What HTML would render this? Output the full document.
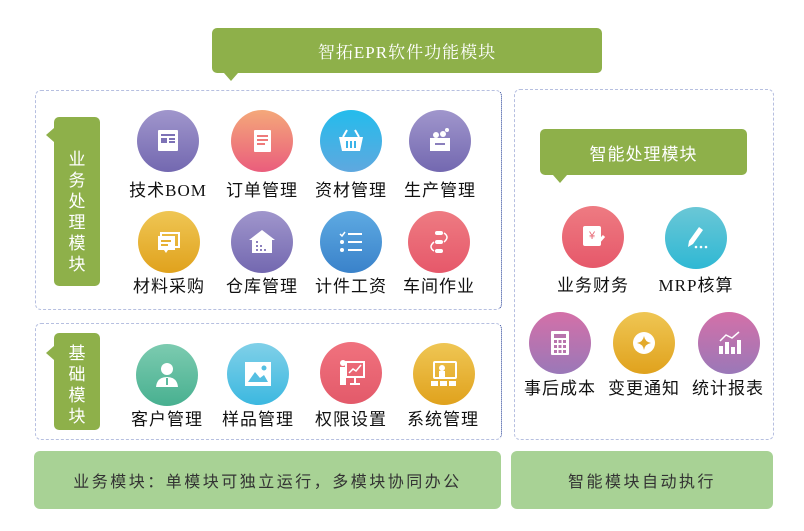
<!DOCTYPE html>
<html><head><meta charset="utf-8"><style>
*{margin:0;padding:0;box-sizing:border-box}
body{width:804px;height:531px;background:#fff;position:relative;overflow:hidden;font-family:"Liberation Serif","Noto Serif CJK SC",serif}
.a{position:absolute}
.g{background:#8eb04a;border-radius:5px;color:#fff}
.box{position:absolute;border:1px dashed #b6bfe0;border-radius:6px}
.box.r{border-right:1.5px dotted #1f3a93}
.c{position:absolute;width:62px;height:62px;border-radius:50%;display:flex;align-items:center;justify-content:center}
.c svg{width:34px;height:34px}
.l{position:absolute;width:120px;text-align:center;font-size:17px;color:#111;letter-spacing:1px;font-family:"Liberation Serif","Noto Sans CJK SC",sans-serif}
.bar{position:absolute;background:#a8d295;border-radius:6px;color:#333;font-size:16px;letter-spacing:2.5px;font-family:"Liberation Sans","Noto Sans CJK SC",sans-serif;display:flex;align-items:center;justify-content:center}
.p{background:linear-gradient(#a096cc,#7368b0)}
.o{background:linear-gradient(#f4a87a,#ea5d7c)}
.b{background:linear-gradient(#24bcec,#5fa8df)}
.y{background:linear-gradient(#efc654,#e0a21d)}
.b2{background:linear-gradient(#5eaae2,#3a82ca)}
.rd{background:linear-gradient(#ee7b82,#e6586a)}
.t{background:linear-gradient(#6ac7d6,#2fb8d4)}
.pk{background:linear-gradient(#d470a8,#9a78b8)}
.gr{background:linear-gradient(#7ccbb0,#48b090)}
.sk{background:linear-gradient(#80d0e8,#3cb8e0)}
.rp{background:linear-gradient(#f0727e,#e35a6a)}
</style></head><body>

<!-- title -->
<div class="a g" style="left:212px;top:28px;width:390px;height:45px;display:flex;align-items:center;justify-content:center;font-size:17px;letter-spacing:1px">智拓EPR软件功能模块</div>
<div class="a" style="left:224px;top:73px;width:0;height:0;border-left:7px solid transparent;border-right:7px solid transparent;border-top:8px solid #8eb04a"></div>

<!-- boxes -->
<div class="box r" style="left:35px;top:90px;width:467px;height:220px"></div>
<div class="box r" style="left:35px;top:323px;width:467px;height:117px"></div>
<div class="box" style="left:514px;top:89px;width:260px;height:351px"></div>

<!-- vertical labels -->
<div class="a g" style="left:54px;top:117px;width:46px;height:169px;font-size:17px;line-height:21px;text-align:center;padding-top:32px;font-family:'Liberation Sans','Noto Sans CJK SC',sans-serif">业<br>务<br>处<br>理<br>模<br>块</div>
<div class="a" style="left:46px;top:128px;border-top:7px solid transparent;border-bottom:7px solid transparent;border-right:8px solid #8eb04a"></div>
<div class="a g" style="left:54px;top:333px;width:46px;height:97px;font-size:17px;line-height:21px;text-align:center;padding-top:10px;font-family:'Liberation Sans','Noto Sans CJK SC',sans-serif">基<br>础<br>模<br>块</div>
<div class="a" style="left:46px;top:346px;border-top:7px solid transparent;border-bottom:7px solid transparent;border-right:8px solid #8eb04a"></div>

<!-- right label -->
<div class="a g" style="left:540px;top:129px;width:207px;height:46px;display:flex;align-items:center;justify-content:center;font-size:17px;letter-spacing:1px;font-family:'Liberation Sans','Noto Sans CJK SC',sans-serif">智能处理模块</div>
<div class="a" style="left:553px;top:175px;border-left:7px solid transparent;border-right:7px solid transparent;border-top:8px solid #8eb04a"></div>

<!-- row 1 -->
<div class="c p" style="left:137px;top:110px"><svg viewBox="0 0 34 34"><rect x="7" y="6" width="20" height="21" rx="1" fill="#fff"/><rect x="10" y="10" width="14" height="2" fill="#7d72b6"/><rect x="10" y="14" width="6" height="5" fill="#7d72b6"/><rect x="18" y="14" width="6" height="2" fill="#7d72b6"/><rect x="18" y="17" width="6" height="2" fill="#7d72b6"/></svg></div>
<div class="l" style="left:108px;top:176px">技术BOM</div>
<div class="c o" style="left:231px;top:110px"><svg viewBox="0 0 34 34"><rect x="9" y="6" width="17" height="22" rx="1" fill="#fff"/><rect x="12" y="11" width="11" height="2" fill="#ee7a7a"/><rect x="12" y="15" width="11" height="2" fill="#ee7a7a"/><rect x="12" y="19" width="8" height="2" fill="#ee7a7a"/></svg></div>
<div class="l" style="left:202px;top:176px">订单管理</div>
<div class="c b" style="left:320px;top:110px"><svg viewBox="0 0 34 34"><path d="M13 6 L9 13 M21 6 L25 13" stroke="#fff" stroke-width="2"/><path d="M5 13 H29 L26 27 H8 Z" fill="#fff"/><rect x="12" y="17" width="2" height="7" fill="#3ab3e8"/><rect x="16" y="17" width="2" height="7" fill="#3ab3e8"/><rect x="20" y="17" width="2" height="7" fill="#3ab3e8"/></svg></div>
<div class="l" style="left:291px;top:176px">资材管理</div>
<div class="c p" style="left:409px;top:110px"><svg viewBox="0 0 34 34"><circle cx="13" cy="11" r="3" fill="#fff"/><circle cx="20" cy="10" r="3" fill="#fff"/><circle cx="24" cy="6" r="2" fill="#fff"/><rect x="7" y="14" width="20" height="13" fill="#fff"/><rect x="12" y="19" width="10" height="2" fill="#8a7fbc"/></svg></div>
<div class="l" style="left:380px;top:176px">生产管理</div>

<!-- row 2 -->
<div class="c y" style="left:138px;top:211px"><svg viewBox="0 0 34 34"><rect x="9" y="8" width="18" height="14" fill="none" stroke="#fff" stroke-width="2"/><path d="M6 11 H23 V25 H16 L14 28 L12 25 H6 Z" fill="#fff"/><rect x="9" y="15" width="10" height="2" fill="#e6b034"/><rect x="9" y="19" width="7" height="2" fill="#e6b034"/></svg></div>
<div class="l" style="left:109px;top:272px">材料采购</div>
<div class="c p" style="left:231px;top:211px"><svg viewBox="0 0 34 34"><path d="M4 15 L17 5 L30 15 H27 V28 H7 V15 Z" fill="#fff"/><g fill="#8a7fbc"><rect x="11" y="16" width="2" height="2"/><rect x="11" y="20" width="2" height="2"/><rect x="15" y="20" width="2" height="2"/><rect x="11" y="24" width="2" height="2"/><rect x="15" y="24" width="2" height="2"/><rect x="19" y="24" width="2" height="2"/></g></svg></div>
<div class="l" style="left:202px;top:272px">仓库管理</div>
<div class="c b2" style="left:320px;top:211px"><svg viewBox="0 0 34 34"><g fill="#fff"><path d="M6 9 l2 2 l3-4" stroke="#fff" stroke-width="1.5" fill="none"/><rect x="14" y="8" width="14" height="2"/><circle cx="8" cy="17" r="2"/><rect x="14" y="16" width="14" height="2"/><circle cx="8" cy="25" r="2"/><rect x="14" y="24" width="14" height="2"/></g></svg></div>
<div class="l" style="left:291px;top:272px">计件工资</div>
<div class="c rd" style="left:408px;top:211px"><svg viewBox="0 0 34 34"><g fill="#fff"><rect x="13" y="6" width="8" height="4" rx="2"/><rect x="13" y="15" width="8" height="4" rx="2"/><rect x="13" y="24" width="8" height="4" rx="2"/></g><path d="M22 8 Q28 12 22 17 M12 17 Q6 22 12 26" stroke="#fff" stroke-width="1.5" fill="none"/></svg></div>
<div class="l" style="left:379px;top:272px">车间作业</div>

<!-- basic row -->
<div class="c gr" style="left:136px;top:344px"><svg viewBox="0 0 34 34"><circle cx="17" cy="11" r="6" fill="#fff"/><path d="M6 29 Q7 19 17 19 Q27 19 28 29 Z" fill="#fff"/><rect x="16" y="20" width="2" height="7" fill="#5dbb9e"/></svg></div>
<div class="l" style="left:107px;top:405px">客户管理</div>
<div class="c sk" style="left:227px;top:343px"><svg viewBox="0 0 34 34"><rect x="4" y="5" width="26" height="24" fill="#fff"/><path d="M7 25 L14 15 L19 21 L23 18 L27 25 Z" fill="#55bfe2"/><circle cx="23" cy="11" r="2.5" fill="#55bfe2"/></svg></div>
<div class="l" style="left:198px;top:405px">样品管理</div>
<div class="c rp" style="left:320px;top:342px"><svg viewBox="0 0 34 34"><circle cx="9" cy="7" r="3" fill="#fff"/><rect x="6" y="11" width="6" height="18" fill="#fff"/><rect x="12" y="6" width="18" height="15" fill="none" stroke="#fff" stroke-width="2"/><path d="M15 17 L19 13 L22 15 L27 9" stroke="#fff" stroke-width="1.5" fill="none"/><rect x="20" y="21" width="2" height="6" fill="#fff"/><rect x="16" y="27" width="10" height="2" fill="#fff"/></svg></div>
<div class="l" style="left:291px;top:405px">权限设置</div>
<div class="c y" style="left:413px;top:343px"><svg viewBox="0 0 34 34"><rect x="7" y="5" width="22" height="16" rx="1" fill="none" stroke="#fff" stroke-width="2"/><circle cx="15" cy="11" r="3" fill="#fff"/><rect x="12" y="14" width="6" height="7" fill="#fff"/><g fill="#fff"><rect x="4" y="24" width="7" height="5"/><rect x="13" y="24" width="7" height="5"/><rect x="22" y="24" width="7" height="5"/></g></svg></div>
<div class="l" style="left:383px;top:405px">系统管理</div>

<!-- right icons -->
<div class="c rd" style="left:562px;top:206px"><svg viewBox="0 0 34 34"><rect x="7" y="6" width="18" height="20" rx="2" fill="#fff"/><text x="16" y="19" font-size="11" fill="#e86a76" text-anchor="middle" font-family="Liberation Sans">¥</text><path d="M20 25 L28 16" stroke="#fff" stroke-width="3"/></svg></div>
<div class="l" style="left:533px;top:271px">业务财务</div>
<div class="c t" style="left:665px;top:207px"><svg viewBox="0 0 34 34"><path d="M9 26 L10 20 L20 6 L24 9 L14 23 Z" fill="#fff"/><circle cx="17" cy="26" r="1.3" fill="#fff"/><circle cx="22" cy="26" r="1.3" fill="#fff"/><circle cx="27" cy="26" r="1.3" fill="#fff"/></svg></div>
<div class="l" style="left:636px;top:271px">MRP核算</div>
<div class="c pk" style="left:529px;top:312px"><svg viewBox="0 0 34 34"><rect x="8" y="5" width="18" height="24" rx="1" fill="#fff"/><rect x="11" y="8" width="12" height="4" fill="#b874ad"/><g fill="#b874ad"><rect x="11" y="14" width="3" height="3"/><rect x="15.5" y="14" width="3" height="3"/><rect x="20" y="14" width="3" height="3"/><rect x="11" y="19" width="3" height="3"/><rect x="15.5" y="19" width="3" height="3"/><rect x="20" y="19" width="3" height="3"/><rect x="11" y="24" width="3" height="3"/><rect x="15.5" y="24" width="3" height="3"/><rect x="20" y="24" width="3" height="3"/></g></svg></div>
<div class="l" style="left:500px;top:374px">事后成本</div>
<div class="c y" style="left:613px;top:312px"><svg viewBox="0 0 34 34"><circle cx="17" cy="17" r="11" fill="#fff"/><path d="M17 10 Q18 16 24 17 Q18 18 17 24 Q16 18 10 17 Q16 16 17 10Z" fill="#e3aa2a"/></svg></div>
<div class="l" style="left:584px;top:374px">变更通知</div>
<div class="c pk" style="left:698px;top:312px"><svg viewBox="0 0 34 34"><g fill="#fff"><rect x="7" y="20" width="4" height="8"/><rect x="13" y="16" width="4" height="12"/><rect x="19" y="21" width="4" height="7"/><rect x="25" y="14" width="4" height="14"/></g><path d="M8 15 L14 9 L20 12 L27 6" stroke="#fff" stroke-width="1.5" fill="none"/></svg></div>
<div class="l" style="left:668px;top:374px">统计报表</div>

<!-- bottom bars -->
<div class="bar" style="left:34px;top:451px;width:467px;height:58px">业务模块：单模块可独立运行，多模块协同办公</div>
<div class="bar" style="left:511px;top:451px;width:262px;height:58px">智能模块自动执行</div>
</body></html>
